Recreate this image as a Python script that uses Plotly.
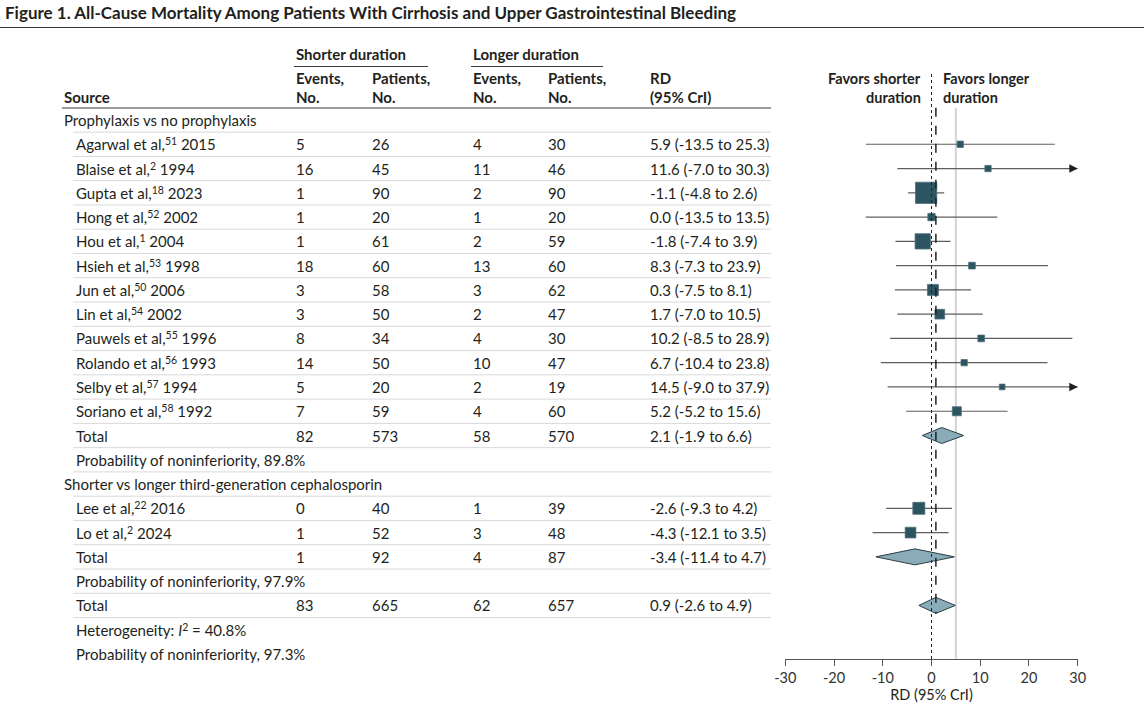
import plotly.graph_objects as go

W, H = 1144, 712
FONT = "Lato"
TEXT = "#231f20"
SUP_STYLE = "font-size:10.5px;baseline-shift:5px"

# ---------------- data ----------------
title_text = "Figure 1. All-Cause Mortality Among Patients With Cirrhosis and Upper Gastrointestinal Bleeding"

group1_label = "Prophylaxis vs no prophylaxis"
g1_authors = ["Agarwal et al", "Blaise et al", "Gupta et al", "Hong et al", "Hou et al", "Hsieh et al",
              "Jun et al", "Lin et al", "Pauwels et al", "Rolando et al", "Selby et al", "Soriano et al"]
g1_refs = ["51", "2", "18", "52", "1", "53", "50", "54", "55", "56", "57", "58"]
g1_years = [2015, 1994, 2023, 2002, 2004, 1998, 2006, 2002, 1996, 1993, 1994, 1992]
g1_ev_short = [5, 16, 1, 1, 1, 18, 3, 3, 8, 14, 5, 7]
g1_n_short = [26, 45, 90, 20, 61, 60, 58, 50, 34, 50, 20, 59]
g1_ev_long = [4, 11, 2, 1, 2, 13, 3, 2, 4, 10, 2, 4]
g1_n_long = [30, 46, 90, 20, 59, 60, 62, 47, 30, 47, 19, 60]
g1_rd = [5.9, 11.6, -1.1, 0.0, -1.8, 8.3, 0.3, 1.7, 10.2, 6.7, 14.5, 5.2]
g1_lo = [-13.5, -7.0, -4.8, -13.5, -7.4, -7.3, -7.5, -7.0, -8.5, -10.4, -9.0, -5.2]
g1_hi = [25.3, 30.3, 2.6, 13.5, 3.9, 23.9, 8.1, 10.5, 28.9, 23.8, 37.9, 15.6]
g1_weight = [4.4, 4.4, 50.4, 5.9, 26.0, 5.0, 13.4, 10.5, 5.0, 4.4, 3.6, 9.0]  # estimated relative weights
g1_total = [82, 573, 58, 570]
g1_total_rd = [2.1, -1.9, 6.6]
g1_prob = "Probability of noninferiority, 89.8%"

group2_label = "Shorter vs longer third-generation cephalosporin"
g2_authors = ["Lee et al", "Lo et al"]
g2_refs = ["22", "2"]
g2_years = [2016, 2024]
g2_ev_short = [0, 1]
g2_n_short = [40, 52]
g2_ev_long = [1, 3]
g2_n_long = [39, 48]
g2_rd = [-2.6, -4.3]
g2_lo = [-9.3, -12.1]
g2_hi = [4.2, 3.5]
g2_weight = [16.0, 12.7]
g2_total = [1, 92, 4, 87]
g2_total_rd = [-3.4, -11.4, 4.7]
g2_prob = "Probability of noninferiority, 97.9%"

overall_total = [83, 665, 62, 657]
overall_rd = [0.9, -2.6, 4.9]
overall_i2 = "40.8%"
overall_prob = "Probability of noninferiority, 97.3%"

noninferiority_margin = 5
x_ticks = [-30, -20, -10, 0, 10, 20, 30]
x_tick_labels = ["-30", "-20", "-10", "0", "10", "20", "30"]
x_min, x_max = -30, 30


def sup(s):
    return f'<span style="{SUP_STYLE}">{s}</span>'


# ---------------- build rows ----------------
rows = []


def add(label, indent, cells=None, mark=None):
    rows.append(dict(label=label, indent=indent, cells=cells, mark=mark))


def rd_text(e, lo, hi):
    return f"{e:.1f} ({lo:.1f} to {hi:.1f})"


def study_label(a, ref, yr):
    return f"{a},{sup(ref)} {yr}"


add(group1_label, False)
for k in range(len(g1_authors)):
    add(study_label(g1_authors[k], g1_refs[k], g1_years[k]), True,
        [g1_ev_short[k], g1_n_short[k], g1_ev_long[k], g1_n_long[k], rd_text(g1_rd[k], g1_lo[k], g1_hi[k])],
        ("study", g1_rd[k], g1_lo[k], g1_hi[k], g1_weight[k]))
add("Total", True, g1_total + [rd_text(*g1_total_rd)], ("pooled", *g1_total_rd))
add(g1_prob, True)
add(group2_label, False)
for k in range(len(g2_authors)):
    add(study_label(g2_authors[k], g2_refs[k], g2_years[k]), True,
        [g2_ev_short[k], g2_n_short[k], g2_ev_long[k], g2_n_long[k], rd_text(g2_rd[k], g2_lo[k], g2_hi[k])],
        ("study", g2_rd[k], g2_lo[k], g2_hi[k], g2_weight[k]))
add("Total", True, g2_total + [rd_text(*g2_total_rd)], ("pooled", *g2_total_rd))
add(g2_prob, True)
add("Total", True, overall_total + [rd_text(*overall_rd)], ("overall", *overall_rd))
add(f"Heterogeneity: <i>I</i>{sup('2')} = {overall_i2}", True)
add(overall_prob, True)

# ---------------- layout geometry (pixels) ----------------
ROW0_PX = 120.0
ROW_PX = 24.27
AXIS_PX = 659.0
PLOT_X0, PLOT_X1 = 785.3, 1077.7
COL_X = [294, 370, 471, 546, 648]
X_GROUP, X_INDENT = 62, 74
TABLE_RIGHT = 771
BODY = 15


def px(x):
    return x / W


def py(y):
    return 1 - y / H


y_top = -ROW0_PX / ROW_PX
y_bot = (AXIS_PX - ROW0_PX) / ROW_PX

fig = go.Figure()

ci_x, ci_y = [], []
arrow_rows = []
sq_x, sq_y, sq_s = [], [], []
diamonds = []
for i, r in enumerate(rows):
    m = r["mark"]
    if m is None:
        continue
    if m[0] == "study":
        _, e, lo, hi, w = m
        ci_x += [max(lo, x_min), min(hi, x_max), None]
        ci_y += [i, i, None]
        if hi > x_max:
            arrow_rows.append(i)
        sq_x.append(e)
        sq_y.append(i)
        sq_s.append(3.0 * w ** 0.5)
    else:
        diamonds.append((i, m[1], m[2], m[3]))

fig.add_trace(go.Scatter(x=ci_x, y=ci_y, mode="lines",
                         line=dict(color="#5e5e5e", width=1.2), hoverinfo="skip", showlegend=False))
fig.add_trace(go.Scatter(x=sq_x, y=sq_y, mode="markers",
                         marker=dict(symbol="square", size=sq_s, color="#2c5461", opacity=1,
                                     line=dict(color="#4f707b", width=0.8)),
                         hoverinfo="skip", showlegend=False))
DH = 0.33
for (i, e, lo, hi) in diamonds:
    fig.add_trace(go.Scatter(x=[lo, e, hi, e, lo], y=[i, i - DH, i, i + DH, i],
                             mode="lines", fill="toself", fillcolor="#8aabb8",
                             line=dict(color="#2b3e46", width=1), hoverinfo="skip", showlegend=False))

shapes = []
ann = []

# arrowheads for CIs running past the axis limit
for i in arrow_rows:
    ann.append(dict(x=x_max, y=i, xref="x", yref="y", ax=x_max - 2, ay=i, axref="x", ayref="y",
                    text="", showarrow=True, arrowhead=2, arrowsize=1.4, arrowwidth=1.2,
                    arrowcolor="#1f1f1f"))

# title and its rule
ann.append(dict(x=px(3), xref="paper", y=py(12), yref="paper", text=title_text, showarrow=False,
                xanchor="left", yanchor="middle",
                font=dict(family=FONT, size=17, color=TEXT, weight="bold")))
shapes.append(dict(type="line", xref="paper", yref="paper", x0=0, x1=1, y0=py(27.5), y1=py(27.5),
                   line=dict(color="#3a3a3a", width=1.2)))


def head(x, y, text, xanchor="left", size=BODY, xref="paper", xshift=0):
    ann.append(dict(x=px(x) if xref == "paper" else x, xref=xref, y=py(y), yref="paper", text=text,
                    showarrow=False, xanchor=xanchor, yanchor="middle", xshift=xshift,
                    font=dict(family=FONT, size=size, color=TEXT, weight="bold")))


head(COL_X[0], 54, "Shorter duration")
head(COL_X[2], 54, "Longer duration")
shapes.append(dict(type="line", xref="paper", yref="paper", x0=px(294), x1=px(428), y0=py(66.5), y1=py(66.5),
                   line=dict(color="#3a3a3a", width=1)))
shapes.append(dict(type="line", xref="paper", yref="paper", x0=px(471), x1=px(603), y0=py(66.5), y1=py(66.5),
                   line=dict(color="#3a3a3a", width=1)))
head(X_GROUP, 97, "Source")
header_top = ["Events,", "Patients,", "Events,", "Patients,", "RD"]
header_bottom = ["No.", "No.", "No.", "No.", "(95% CrI)"]
for c, t, b in zip(COL_X, header_top, header_bottom):
    head(c, 78, t)
    head(c, 97, b)
shapes.append(dict(type="line", xref="paper", yref="paper", x0=px(X_GROUP), x1=px(TABLE_RIGHT),
                   y0=py(108), y1=py(108), line=dict(color="#3a3a3a", width=1.2)))

# favors labels
head(0, 78, "Favors shorter", xanchor="right", size=14.5, xref="x", xshift=-9)
head(0, 97, "duration", xanchor="right", size=14.5, xref="x", xshift=-9)
head(0, 78, "Favors longer", xanchor="left", size=14.5, xref="x", xshift=9)
head(0, 97, "duration", xanchor="left", size=14.5, xref="x", xshift=9)

# table body
for i, r in enumerate(rows):
    xl = X_INDENT if r["indent"] else X_GROUP
    ann.append(dict(x=px(xl), xref="paper", y=i, yref="y", text=r["label"], showarrow=False,
                    xanchor="left", yanchor="middle", font=dict(family=FONT, size=BODY, color=TEXT)))
    if r["cells"]:
        for c, v in zip(COL_X, r["cells"]):
            ann.append(dict(x=px(c), xref="paper", y=i, yref="y", text=str(v), showarrow=False,
                            xanchor="left", yanchor="middle", font=dict(family=FONT, size=BODY, color=TEXT)))
    if i <= 20:
        shapes.append(dict(type="line", xref="paper", yref="y", x0=px(X_INDENT - 1), x1=px(TABLE_RIGHT),
                           y0=i + 0.5, y1=i + 0.5, line=dict(color="#d9d9d9", width=1), layer="below"))

# reference lines
shapes.append(dict(type="line", xref="x", yref="y", x0=noninferiority_margin, x1=noninferiority_margin,
                   y0=-0.5, y1=y_bot, line=dict(color="#d4d4d4", width=2), layer="below"))
shapes.append(dict(type="line", xref="x", yref="paper", x0=0, x1=0, y0=py(AXIS_PX), y1=py(72),
                   line=dict(color="#222222", width=1, dash="dot")))
shapes.append(dict(type="line", xref="x", yref="y", x0=overall_rd[0], x1=overall_rd[0],
                   y0=-0.5, y1=diamonds[-1][0] + DH, line=dict(color="#222222", width=1.5, dash="dash")))

fig.update_layout(
    template="none",
    width=W, height=H, autosize=False,
    margin=dict(l=0, r=0, t=0, b=0, pad=0, autoexpand=False),
    paper_bgcolor="white", plot_bgcolor="white",
    showlegend=False,
    font=dict(family=FONT, size=14, color=TEXT),
    xaxis=dict(domain=[px(PLOT_X0), px(PLOT_X1)], range=[x_min, x_max], automargin=False,
               tickvals=x_ticks, ticktext=x_tick_labels, ticks="outside", ticklen=6,
               tickcolor="#555555", tickwidth=1, showline=True, linecolor="#555555", linewidth=1,
               showgrid=False, zeroline=False, tickfont=dict(family=FONT, size=14.5, color="#333333"),
               title=dict(text="RD (95% CrI)", font=dict(family=FONT, size=14.5, color=TEXT), standoff=4),
               fixedrange=True),
    yaxis=dict(domain=[1 - AXIS_PX / H, 1], range=[y_bot, y_top], visible=False, automargin=False,
               showgrid=False, zeroline=False, fixedrange=True),
    shapes=shapes,
    annotations=ann,
)

fig.write_html("out.html", config={"displayModeBar": False},
               post_script="document.body.style.margin='0px';document.body.style.overflow='hidden';")
